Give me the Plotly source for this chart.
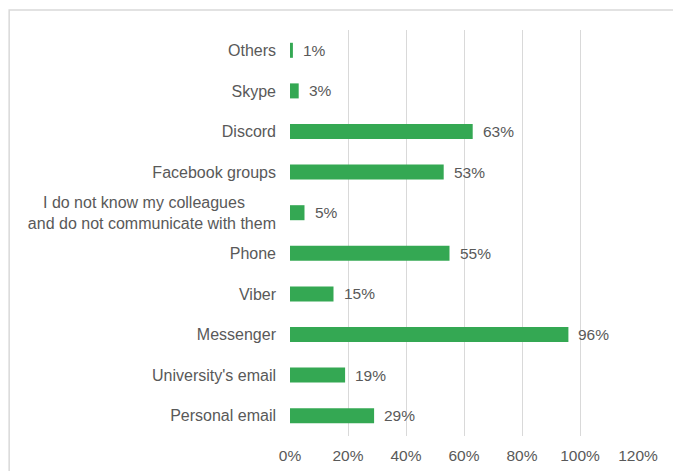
import plotly.graph_objects as go

categories = [
    "Personal email",
    "University's email",
    "Messenger",
    "Viber",
    "Phone",
    "I do not know my colleagues\u00a0\u00a0\u00a0\u00a0\u00a0\u00a0\u00a0<br>and do not communicate with them",
    "Facebook groups",
    "Discord",
    "Skype",
    "Others",
]
values = [0.29, 0.19, 0.96, 0.15, 0.55, 0.05, 0.53, 0.63, 0.03, 0.01]
tick_vals = [0, 0.2, 0.4, 0.6, 0.8, 1.0, 1.2]
tick_text = ["0%", "20%", "40%", "60%", "80%", "100%", "120%"]

GREEN = "#34A853"
TXT = "#595959"
FONT = "Liberation Sans, Arial, sans-serif"

fig = go.Figure()
fig.add_trace(go.Bar(
    x=values, y=categories, orientation="h",
    marker=dict(color=GREEN, line=dict(width=0)),
    width=0.37,
    hoverinfo="x+y",
))

for c, v in zip(categories, values):
    fig.add_annotation(
        x=v, y=c, text=f"{round(v*100)}%", xanchor="left", yanchor="middle",
        xshift=8, showarrow=False, font=dict(family=FONT, size=15.5, color=TXT),
    )

fig.add_shape(type="rect", xref="paper", yref="paper",
              x0=-0.807, x1=1.2, y0=-0.2, y1=1.049,
              line=dict(color="#d9d9d9", width=1.5), layer="below")

fig.update_layout(
    width=673, height=471,
    margin=dict(l=290, r=35, t=30, b=35),
    paper_bgcolor="white", plot_bgcolor="white",
    font=dict(family=FONT, size=16, color=TXT),
    showlegend=False,
    bargap=0.63,
    xaxis=dict(range=[0, 1.2], tickvals=tick_vals, ticktext=tick_text,
               showgrid=True, gridcolor="#d9d9d9", gridwidth=1,
               zeroline=False, showline=False, ticks="", automargin=False,
               tickfont=dict(size=15.5), ticklabelstandoff=8, fixedrange=True),
    yaxis=dict(categoryorder="array", categoryarray=categories,
               showgrid=False, zeroline=False, showline=False, ticks="",
               automargin=False, ticklabelstandoff=13, fixedrange=True),
)

fig.write_html(
    "out.html",
    config={"displayModeBar": False},
    post_script="document.body.style.margin='0';document.body.style.overflow='hidden';",
)
